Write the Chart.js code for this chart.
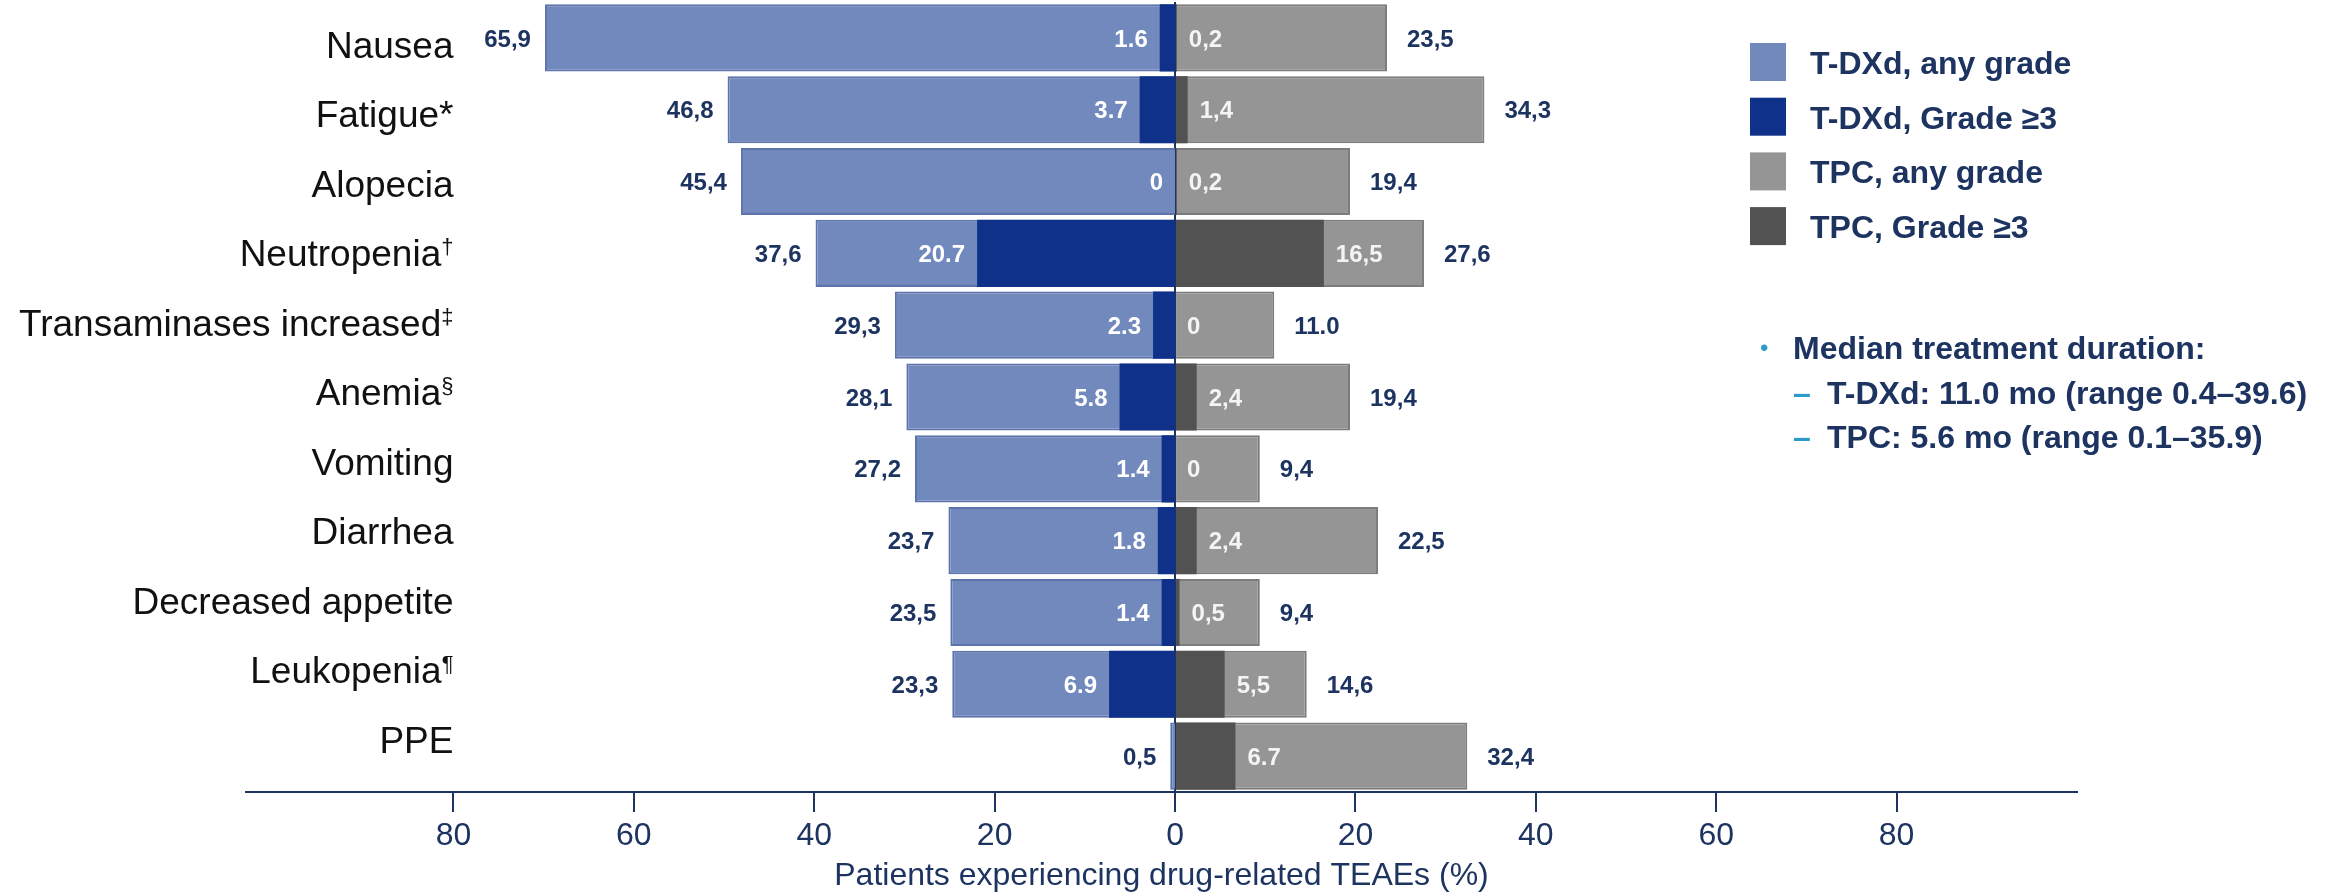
<!DOCTYPE html>
<html>
<head>
<meta charset="utf-8">
<script src="https://cdn.jsdelivr.net/npm/chart.js@4.4.1/dist/chart.umd.min.js"></script>
<style>
  html, body { margin: 0; padding: 0; background: #fff; }
  #wrap { width: 2336px; height: 894px; position: relative; }
</style>
</head>
<body>
<div id="wrap"><canvas id="teaeChart"></canvas></div>
<script>
const categories = ["Nausea", "Fatigue*", "Alopecia", "Neutropenia", "Transaminases increased", "Anemia",
  "Vomiting", "Diarrhea", "Decreased appetite", "Leukopenia", "PPE"];
const footnoteMarks = ["", "", "", "†", "‡", "§", "", "", "", "¶", ""];

const tdxdAny = [65.9, 46.8, 45.4, 37.6, 29.3, 28.1, 27.2, 23.7, 23.5, 23.3, 0.5];
const tdxdG3 = [1.6, 3.7, 0, 20.7, 2.3, 5.8, 1.4, 1.8, 1.4, 6.9, 0];
const tpcAny = [23.5, 34.3, 19.4, 27.6, 11.0, 19.4, 9.4, 22.5, 9.4, 14.6, 32.4];
const tpcG3 = [0.2, 1.4, 0.2, 16.5, 0, 2.4, 0, 2.4, 0.5, 5.5, 6.7];

// the slide prints its numbers with mixed "," and "." decimals, keep them as shown
const tdxdAnyText = ["65,9", "46,8", "45,4", "37,6", "29,3", "28,1", "27,2", "23,7", "23,5", "23,3", "0,5"];
const tdxdG3Text = ["1.6", "3.7", "0", "20.7", "2.3", "5.8", "1.4", "1.8", "1.4", "6.9", ""];
const tpcAnyText = ["23,5", "34,3", "19,4", "27,6", "11.0", "19,4", "9,4", "22,5", "9,4", "14,6", "32,4"];
const tpcG3Text = ["0,2", "1,4", "0,2", "16,5", "0", "2,4", "0", "2,4", "0,5", "5,5", "6.7"];

const xTicks = [-80, -60, -40, -20, 0, 20, 40, 60, 80];
const seriesNames = ["T-DXd, any grade", "T-DXd, Grade ≥3", "TPC, any grade", "TPC, Grade ≥3"];
const noteTitle = "Median treatment duration:";
const noteLines = ["T-DXd: 11.0 mo (range 0.4–39.6)", "TPC: 5.6 mo (range 0.1–35.9)"];

const navy = "#1d3461";
const teal = "#2c9bc9";
const colors = ["#7289be", "#0f318a", "#959595", "#525252"];
const font = '"Liberation Sans", Arial, sans-serif';

// on the slide the T-DXd half is drawn ~6% longer than its own axis
const leftStretch = 1.06;
const xMin = -103, xMax = 100;

const labelsPlugin = {
  id: "slideLabels",
  afterDraw(chart) {
    const ctx = chart.ctx;
    const y = chart.scales.y, xr = chart.scales.x, xl = chart.scales.xl;
    ctx.save();

    // category names with superscript footnote marks
    const right = xr.getPixelForValue(-80);
    const y0 = y.getPixelForValue(0);
    categories.forEach((name, i) => {
      const base = y0 + 20 + i * 69.5;
      const mark = footnoteMarks[i];
      ctx.font = `22px ${font}`;
      const mw = mark ? ctx.measureText(mark).width : 0;
      ctx.fillStyle = "#111";
      ctx.textBaseline = "alphabetic";
      ctx.textAlign = "right";
      ctx.font = `37px ${font}`;
      ctx.fillText(name, right - mw, base);
      if (mark) {
        ctx.font = `22px ${font}`;
        ctx.textAlign = "left";
        ctx.fillText(mark, right - mw, base - 12);
      }
    });

    // value labels
    ctx.font = `bold 24px ${font}`;
    ctx.textBaseline = "middle";
    categories.forEach((_, i) => {
      const yc = y.getPixelForValue(i) + 2;
      ctx.textAlign = "right";
      ctx.fillStyle = navy;
      ctx.fillText(tdxdAnyText[i], xl.getPixelForValue(-tdxdAny[i]) - 14, yc);
      ctx.fillStyle = "#ffffff";
      ctx.fillText(tdxdG3Text[i], xl.getPixelForValue(-tdxdG3[i]) - 12, yc);
      ctx.textAlign = "left";
      ctx.fillStyle = "#f4f4f4";
      ctx.fillText(tpcG3Text[i], xr.getPixelForValue(tpcG3[i]) + 12, yc);
      ctx.fillStyle = navy;
      ctx.fillText(tpcAnyText[i], xr.getPixelForValue(tpcAny[i]) + 20, yc);
    });

    // legend
    seriesNames.forEach((name, k) => {
      const top = 43 + k * 54.7;
      ctx.fillStyle = colors[k];
      ctx.fillRect(1750, top, 36, 38);
      ctx.fillStyle = navy;
      ctx.font = `bold 32px ${font}`;
      ctx.textAlign = "left";
      ctx.textBaseline = "middle";
      ctx.fillText(name, 1810, top + 22);
    });

    // treatment duration note
    ctx.textBaseline = "middle";
    ctx.fillStyle = teal;
    ctx.font = `24px ${font}`;
    ctx.fillText("•", 1760, 349);
    ctx.fillStyle = navy;
    ctx.font = `bold 32px ${font}`;
    ctx.fillText(noteTitle, 1793, 350);
    noteLines.forEach((line, k) => {
      const yy = 395 + k * 44;
      ctx.fillStyle = teal;
      ctx.fillText("–", 1793, yy);
      ctx.fillStyle = navy;
      ctx.fillText(line, 1827, yy);
    });

    ctx.restore();
  }
};

new Chart(document.getElementById("teaeChart"), {
  type: "bar",
  data: {
    labels: categories,
    datasets: [
      { label: seriesNames[1], data: tdxdG3.map(v => -v), xAxisID: "xl", backgroundColor: colors[1], order: 0 },
      { label: seriesNames[0], data: tdxdAny.map(v => -v), xAxisID: "xl", backgroundColor: colors[0],
        borderColor: "#5c74ab", borderWidth: 2, order: 1 },
      { label: seriesNames[3], data: tpcG3, xAxisID: "x", backgroundColor: colors[3], order: 0 },
      { label: seriesNames[2], data: tpcAny, xAxisID: "x", backgroundColor: colors[2],
        borderColor: "#7c7c7c", borderWidth: 2, order: 1 }
    ]
  },
  options: {
    indexAxis: "y",
    responsive: true,
    maintainAspectRatio: false,
    animation: false,
    devicePixelRatio: 1,
    datasets: { bar: { grouped: false, barPercentage: 0.935, categoryPercentage: 1 } },
    layout: { padding: { left: 246, right: 259, top: 2, bottom: 2 } },
    plugins: { legend: { display: false }, tooltip: { enabled: false } },
    scales: {
      x: {
        type: "linear",
        position: "bottom",
        min: xMin,
        max: xMax,
        z: 1,
        afterBuildTicks: s => { s.ticks = xTicks.map(v => ({ value: v })); },
        ticks: {
          callback: v => Math.abs(v),
          color: navy,
          font: { size: 32, family: font, lineHeight: 1 },
          padding: 8,
          autoSkip: false,
          maxRotation: 0
        },
        grid: {
          color: c => (c.tick && c.tick.value === 0 ? navy : "rgba(0,0,0,0)"),
          lineWidth: 2,
          tickColor: navy,
          tickLength: 20
        },
        border: { color: navy, width: 2 },
        title: {
          display: true,
          text: "Patients experiencing drug-related TEAEs (%)",
          color: navy,
          font: { size: 32, family: font, lineHeight: 1 },
          padding: { top: 0, bottom: 0 }
        }
      },
      xl: { type: "linear", min: xMin / leftStretch, max: xMax / leftStretch, display: false },
      y: { type: "category", display: false, offset: true, grid: { display: false } }
    }
  },
  plugins: [labelsPlugin]
});
</script>
</body>
</html>
